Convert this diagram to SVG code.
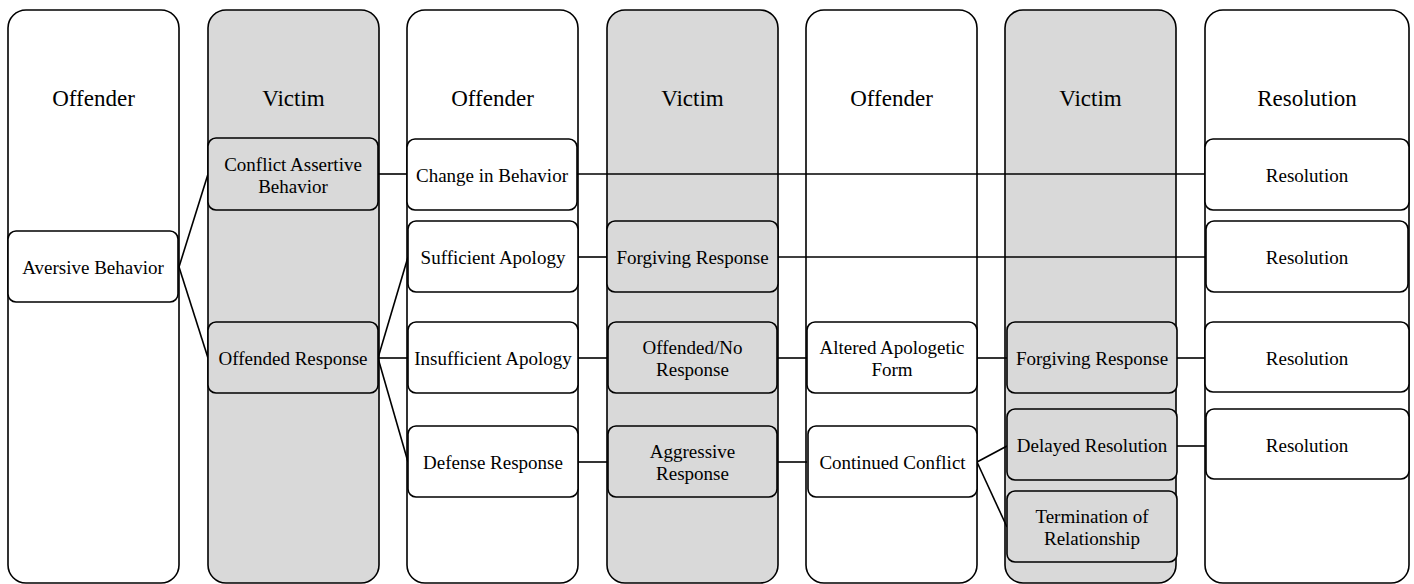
<svg xmlns="http://www.w3.org/2000/svg" width="1414" height="584" viewBox="0 0 1414 584">
<style>
.col{stroke:#000;stroke-width:1.6}
.w{fill:#fff}
.g{fill:#d9d9d9}
.nd{stroke:#000;stroke-width:1.6}
text{font-family:'Liberation Serif','Times New Roman','DejaVu Serif',serif;text-anchor:middle;fill:#000}
.hd{font-size:23px}
.t{font-size:19px}
.cn{stroke:#000;stroke-width:1.6;fill:none}
</style>
<rect width="1414" height="584" fill="#fff"/>
<g id="columns" font-family="Liberation Serif, serif">
<g id="col1"><rect class="col w" x="8" y="10" width="171" height="573" rx="18"/><text class="hd" x="93.5" y="106">Offender</text></g>
<g id="col2"><rect class="col g" x="208" y="10" width="171" height="573" rx="18"/><text class="hd" x="293.5" y="106">Victim</text></g>
<g id="col3"><rect class="col w" x="407" y="10" width="171" height="573" rx="18"/><text class="hd" x="492.5" y="106">Offender</text></g>
<g id="col4"><rect class="col g" x="607" y="10" width="171" height="573" rx="18"/><text class="hd" x="692.5" y="106">Victim</text></g>
<g id="col5"><rect class="col w" x="806" y="10" width="171" height="573" rx="18"/><text class="hd" x="891.5" y="106">Offender</text></g>
<g id="col6"><rect class="col g" x="1005" y="10" width="171" height="573" rx="18"/><text class="hd" x="1090.5" y="106">Victim</text></g>
<g id="col7"><rect class="col w" x="1205" y="10" width="204" height="573" rx="18"/><text class="hd" x="1307" y="106">Resolution</text></g>
</g>
<g id="connectors">
<line class="cn" x1="179" y1="267" x2="208" y2="174"/>
<line class="cn" x1="179" y1="267" x2="208" y2="358"/>
<line class="cn" x1="378" y1="174" x2="407" y2="174"/>
<line class="cn" x1="378" y1="358" x2="408" y2="257"/>
<line class="cn" x1="378" y1="358" x2="408" y2="358"/>
<line class="cn" x1="378" y1="358" x2="408" y2="462"/>
<line class="cn" x1="577" y1="174" x2="1205" y2="174"/>
<line class="cn" x1="578" y1="257" x2="607" y2="257"/>
<line class="cn" x1="778" y1="257" x2="1205" y2="257"/>
<line class="cn" x1="578" y1="358" x2="607" y2="358"/>
<line class="cn" x1="778" y1="358" x2="807" y2="358"/>
<line class="cn" x1="977" y1="358" x2="1007" y2="358"/>
<line class="cn" x1="1177" y1="358" x2="1205" y2="358"/>
<line class="cn" x1="578" y1="462" x2="607" y2="462"/>
<line class="cn" x1="778" y1="462" x2="807" y2="462"/>
<line class="cn" x1="977" y1="462" x2="1007" y2="446"/>
<line class="cn" x1="977" y1="462" x2="1007" y2="527"/>
<line class="cn" x1="1177" y1="446" x2="1205" y2="446"/>
</g>
<g id="n-aversive"><rect class="nd w" x="8" y="231" width="170" height="71" rx="8"/><text class="t" x="93" y="274">Aversive Behavior</text></g>
<g id="n-conflict-assertive"><rect class="nd g" x="208" y="138" width="170" height="72" rx="8"/><text class="t" x="293" y="171">Conflict Assertive</text><text class="t" x="293" y="193">Behavior</text></g>
<g id="n-offended-response"><rect class="nd g" x="208" y="322" width="170" height="71" rx="8"/><text class="t" x="293" y="365">Offended Response</text></g>
<g id="n-change"><rect class="nd w" x="407" y="139" width="170" height="71" rx="8"/><text class="t" x="492" y="182">Change in Behavior</text></g>
<g id="n-sufficient"><rect class="nd w" x="408" y="221" width="170" height="71" rx="8"/><text class="t" x="493" y="264">Sufficient Apology</text></g>
<g id="n-insufficient"><rect class="nd w" x="408" y="322" width="170" height="71" rx="8"/><text class="t" x="493" y="365">Insufficient Apology</text></g>
<g id="n-defense"><rect class="nd w" x="408" y="426" width="170" height="71" rx="8"/><text class="t" x="493" y="469">Defense Response</text></g>
<g id="n-forgiving1"><rect class="nd g" x="607" y="221" width="171" height="71" rx="8"/><text class="t" x="692.5" y="264">Forgiving Response</text></g>
<g id="n-offended-no"><rect class="nd g" x="608" y="322" width="169" height="71" rx="8"/><text class="t" x="692.5" y="354">Offended/No</text><text class="t" x="692.5" y="376">Response</text></g>
<g id="n-aggressive"><rect class="nd g" x="608" y="426" width="169" height="71" rx="8"/><text class="t" x="692.5" y="458">Aggressive</text><text class="t" x="692.5" y="480">Response</text></g>
<g id="n-altered"><rect class="nd w" x="807" y="322" width="170" height="71" rx="8"/><text class="t" x="892" y="354">Altered Apologetic</text><text class="t" x="892" y="376">Form</text></g>
<g id="n-continued"><rect class="nd w" x="808" y="426" width="169" height="71" rx="8"/><text class="t" x="892.5" y="469">Continued Conflict</text></g>
<g id="n-forgiving2"><rect class="nd g" x="1007" y="322" width="170" height="71" rx="8"/><text class="t" x="1092" y="365">Forgiving Response</text></g>
<g id="n-delayed"><rect class="nd g" x="1007" y="409" width="170" height="71" rx="8"/><text class="t" x="1092" y="452">Delayed Resolution</text></g>
<g id="n-termination"><rect class="nd g" x="1007" y="491" width="170" height="71" rx="8"/><text class="t" x="1092" y="523">Termination of</text><text class="t" x="1092" y="545">Relationship</text></g>
<g id="n-res1"><rect class="nd w" x="1205" y="139" width="204" height="71" rx="8"/><text class="t" x="1307" y="182">Resolution</text></g>
<g id="n-res2"><rect class="nd w" x="1206" y="221" width="202" height="71" rx="8"/><text class="t" x="1307" y="264">Resolution</text></g>
<g id="n-res3"><rect class="nd w" x="1205" y="322" width="204" height="70" rx="8"/><text class="t" x="1307" y="365">Resolution</text></g>
<g id="n-res4"><rect class="nd w" x="1206" y="409" width="203" height="70" rx="8"/><text class="t" x="1307" y="452">Resolution</text></g>
</svg>
